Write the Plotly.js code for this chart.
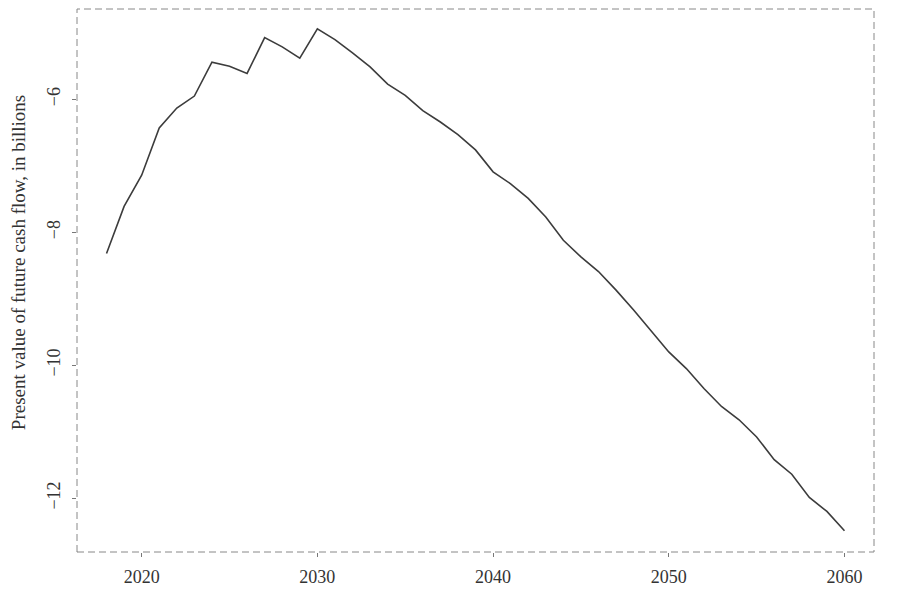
<!DOCTYPE html>
<html>
<head>
<meta charset="utf-8">
<script src="https://cdn.plot.ly/plotly-3.0.1.min.js"></script>
<style>html,body{margin:0;padding:0;background:#fff;}#chart{width:900px;height:596px;}</style>
</head>
<body>
<div id="chart"></div>
<script>
var years = [2018,2019,2020,2021,2022,2023,2024,2025,2026,2027,2028,2029,2030,2031,2032,2033,2034,2035,2036,2037,2038,2039,2040,2041,2042,2043,2044,2045,2046,2047,2048,2049,2050,2051,2052,2053,2054,2055,2056,2057,2058,2059,2060];
var presentValue = [-8.32,-7.61,-7.14,-6.43,-6.13,-5.95,-5.44,-5.50,-5.61,-5.07,-5.21,-5.38,-4.94,-5.10,-5.30,-5.51,-5.77,-5.94,-6.17,-6.34,-6.53,-6.76,-7.09,-7.27,-7.49,-7.77,-8.12,-8.37,-8.59,-8.87,-9.17,-9.49,-9.80,-10.05,-10.35,-10.62,-10.82,-11.08,-11.42,-11.64,-11.99,-12.20,-12.49];
var xTicks = [2020,2030,2040,2050,2060];
var yTicks = [-12,-10,-8,-6];
var yTickText = ['\u221212','\u221210','\u22128','\u22126'];
var yTitle = 'Present value of future cash flow, in billions';

var trace = {
  x: years, y: presentValue, type: 'scatter', mode: 'lines',
  line: {color: '#3c3c3c', width: 1.6}, hoverinfo: 'x+y'
};
var font = {family: 'Liberation Serif, Times New Roman, serif', size: 18, color: '#333'};
var layout = {
  width: 900, height: 596,
  margin: {l: 77, r: 26, t: 9, b: 44, pad: 0},
  paper_bgcolor: '#fff', plot_bgcolor: '#fff',
  showlegend: false,
  font: font,
  xaxis: {
    range: [2016.32, 2061.68], tickvals: xTicks, ticks: 'outside', ticklen: 4, tickwidth: 1,
    tickcolor: '#777', showgrid: false, zeroline: false, showline: false,
    tickfont: font, ticklabelstandoff: 4
  },
  yaxis: {
    range: [-12.81, -4.64], tickvals: yTicks, ticktext: yTickText, ticks: 'outside', ticklen: 4, tickwidth: 1,
    tickcolor: '#777', showgrid: false, zeroline: false, showline: false, tickangle: -90,
    tickfont: font, ticklabelstandoff: 5
  },
  annotations: [{
    text: yTitle, xref: 'paper', yref: 'paper', x: -0.074, y: 0.532,
    xanchor: 'center', yanchor: 'middle', textangle: -90, showarrow: false,
    font: {family: font.family, size: 19, color: '#333'}
  }],
  shapes: [{
    type: 'rect', xref: 'paper', yref: 'paper', x0: 0, x1: 1, y0: 0, y1: 1,
    line: {color: '#888', width: 1, dash: '7px,4px'}, fillcolor: 'rgba(0,0,0,0)', layer: 'below'
  }]
};
Plotly.newPlot('chart', [trace], layout, {displayModeBar: false, staticPlot: true});
</script>
</body>
</html>
